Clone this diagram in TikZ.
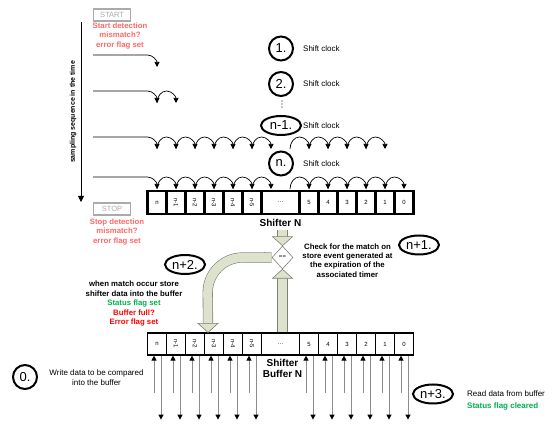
\documentclass[tikz,border=0pt]{standalone}
\usepackage{fontspec}
\setmainfont{Liberation Sans}
\setsansfont{Liberation Sans}
\usepackage{graphicx}
\usetikzlibrary{arrows.meta,calc,positioning}
\usetikzlibrary{shapes.geometric}
\tikzset{every picture/.style={/utils/exec={\sffamily}}}

\definecolor{warn}{RGB}{255,102,102}
\definecolor{okgreen}{RGB}{0,176,80}
\definecolor{bandfill}{RGB}{221,226,204}
\definecolor{bandedge}{RGB}{128,128,118}
\definecolor{wire}{RGB}{140,140,140}
\definecolor{flaggray}{RGB}{170,170,170}

% one clock step: hump from cell k to cell k+1
\newcommand{\hump}[2]{\draw[clk] (157+19*#1,#2-12) arc[start angle=180, end angle=0, x radius=9.5, y radius=12];}
% incoming line of a clock row
\newcommand{\clkentry}[1]{\draw[clk] (93,#1) -- (147.5,#1) arc[start angle=90, end angle=0, x radius=9.5, y radius=12];}

\begin{document}
\begin{tikzpicture}[x=1pt,y=1pt]
  \tikzstyle{phase} = [circle, draw=black, line width=2pt, minimum size=24pt, inner sep=0pt, font=\fontsize{13}{13}\selectfont]
  \tikzstyle{phaselong} = [ellipse, draw=black, line width=2pt, minimum width=40pt, minimum height=19pt, inner sep=0pt, font=\fontsize{13}{13}\selectfont]
  \tikzstyle{note} = [align=center, inner sep=0pt, font=\fontsize{8}{9.3}\selectfont]
  \tikzstyle{boldnote} = [align=center, inner sep=0pt, font=\bfseries\fontsize{7.8}{9.2}\selectfont]
  \tikzstyle{flagbox} = [draw=flaggray, line width=1.3pt, text=flaggray, minimum width=37pt, minimum height=12pt, inner sep=0pt, font=\fontsize{7.5}{7.5}\selectfont]
  \tikzstyle{scell} = [draw=black, line width=2.2pt, minimum width=19pt, minimum height=23pt, inner sep=0pt, font=\fontsize{6}{6}\selectfont]
  \tikzstyle{bcell} = [scell, line width=1.2pt, minimum height=22pt]
  \tikzstyle{clk} = [-{Triangle[length=5pt,width=5pt]}, line width=0.7pt]
  \tikzstyle{wirein} = [draw=wire, line width=1pt, -{Triangle[length=5pt,width=5pt,color=black]}]
  \tikzstyle{band} = [draw=bandedge, line width=0.6pt, double=bandfill, double distance=9pt]
  \tikzstyle{fat} = [draw=bandedge, fill=bandfill, line width=0.6pt]

  \useasboundingbox (0,0) rectangle (554,438);

  % time axis
  \coordinate (t0) at (81,416);
  \coordinate (t1) at (81,236);
  \draw [-{Triangle[length=6pt,width=6pt]}, line width=0.9pt] (t0) -- (t1);
  \node (timelabel) [rotate=90, font=\bfseries\fontsize{7}{7}\selectfont] at (73,326) {sampling sequence in the time};

  \node (start) [flagbox] at (112,423) {START};
  \node (startnote) [boldnote, text=warn] at (120,402) {Start detection\\mismatch?\\error flag set};
  \node (stop) [flagbox] at (112,229) {STOP};
  \node (stopnote) [boldnote, text=warn] at (117,206) {Stop detection\\mismatch?\\error flag set};

  % steps
  \node (p1) [phase] at (281,389.5) {1.};
  \node (p2) [phase] at (281,354) {2.};
  \coordinate (pdots) at (282,334);
  \foreach \d in {-3,0,3}
    \fill ($(pdots)+(0,\d)$) circle (0.6);
  \node (pn1) [phaselong] at (281,312.5) {n-1.};
  \node (pn) [phase] at (281,274.5) {n.};
  \foreach \p in {p1,p2,pn1,pn}
    \node [note, anchor=west] at ($(\p.center)+(22,0)$) {Shift clock};

  % clock rows
  \clkentry{383}
  \clkentry{347}
  \hump{0}{347}
  \clkentry{301}
  \foreach \k in {0,...,5} {\hump{\k}{301}}
  \foreach \k in {7,...,11} {\hump{\k}{301}}
  \clkentry{261}
  \foreach \k in {0,...,5} {\hump{\k}{261}}
  \foreach \k in {7,...,12} {\hump{\k}{261}}

  % shifter
  \node (s0) [scell] at (157,235.5) {n};
  \foreach \k in {1,...,5}
    \node (s\k) [scell] at (157+19*\k,235.5) {\rotatebox{-90}{n-\k}};
  \node (sdots) [scell, minimum width=38pt] at (280.5,235.5) {\dots};
  \foreach \k/\t in {8/5,9/4,10/3,11/2,12/1,13/0}
    \node (s\k) [scell] at (157+19*\k,235.5) {\t};
  \node (sname) [font=\bfseries\fontsize{10}{10}\selectfont] at (280.5,215) {Shifter N};

  % buffer
  \node (b0) [bcell] at (157,94) {n};
  \foreach \k in {1,...,5}
    \node (b\k) [bcell] at (157+19*\k,94) {\rotatebox{-90}{n-\k}};
  \node (bdots) [bcell, minimum width=38pt] at (280.5,94) {\dots};
  \foreach \k/\t in {8/5,9/4,10/3,11/2,12/1,13/0}
    \node (b\k) [bcell] at (157+19*\k,94) {\t};
  \node (bname) [align=center, font=\bfseries\fontsize{10}{11}\selectfont] at (282.5,69.5) {Shifter\\Buffer N};

  \foreach \k in {0,...,5,8,9,...,13} {
    \draw [wirein] ($(b\k.south)+(-3,-37)$) -- ($(b\k.south)+(-3,0)$);
    \draw [wirein] ($(b\k.south)+(4,0)$) -- ($(b\k.south)+(4,-64)$);
  }

  % compare
  \node (eq) [diamond, draw=bandedge, fill=white, line width=0.6pt, minimum width=21pt, minimum height=23pt, inner sep=0pt, font=\fontsize{6}{6}\selectfont] at (282.5,180.5) {==};
  \node (plus) [font=\bfseries\fontsize{8}{8}\selectfont] at (265,183) {+};

  \draw [band] (eq.north |- sname.south) -- ($(eq.north)+(0,9)$);
  \filldraw [fat] (eq.north) -- ++(10,9) -- ++(-20,0) -- cycle;
  \draw [band] (eq.south |- bdots.north) -- ($(eq.south)+(0,-9)$);
  \filldraw [fat] (eq.south) -- ++(10,-9) -- ++(-20,0) -- cycle;
  % store path, left then down
  \draw [band] (eq.west) -- ++(-29,0) arc[start angle=90, end angle=180, radius=35] -- ($(b3.north)+(-6,9)$);
  \filldraw [fat] ($(b3.north)+(-6,0)$) -- ++(10,9) -- ++(-20,0) -- cycle;

  \node (pnp1) [phaselong] at (419,193) {n+1.};
  \node (checknote) [boldnote] at (347.5,177.5) {Check for the match on\\store event generated at\\the expiration of the\\associated timer};
  \node (pnp2) [phaselong] at (185,173.5) {n+2.};
  \node (storenote) [boldnote, font=\bfseries\fontsize{7.8}{9.5}\selectfont] at (134,134) {when match occur store\\shifter data into the buffer\\\textcolor{okgreen}{Status flag set}\\\textcolor{red}{Buffer full?}\\\textcolor{red}{Error flag set}};

  \node (p0) [phase] at (25,61) {0.};
  \node (writenote) [note] at (96.5,60.5) {Write data to be compared\\into the buffer};
  \node (pnp3) [phaselong] at (433,44) {n+3.};
  \node (readnote) [note, align=left, anchor=west, font=\fontsize{8}{12}\selectfont] at (467,38) {Read data from buffer\\\textcolor{okgreen}{\bfseries Status flag cleared}};
\end{tikzpicture}
\end{document}
